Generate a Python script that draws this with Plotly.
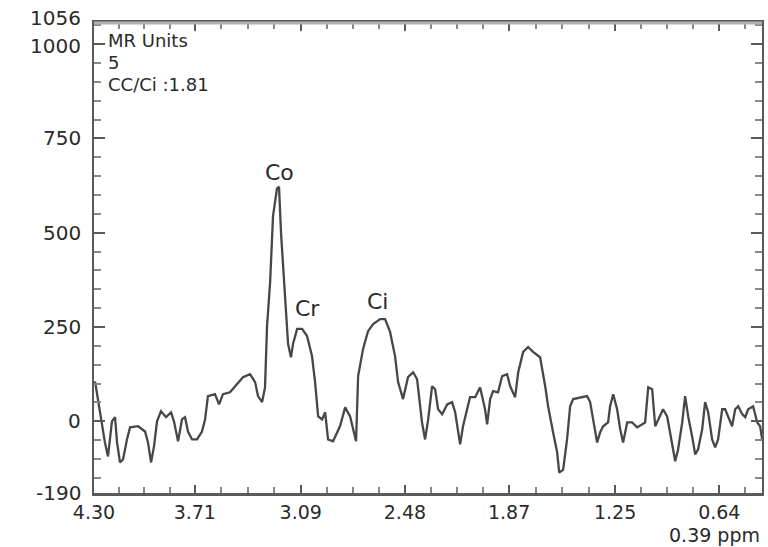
import plotly.graph_objects as go

# Spectrum (ppm, MR units)
ppm = [4.294, 4.277, 4.253, 4.236, 4.218, 4.195, 4.177, 4.165, 4.148, 4.130,
       4.107, 4.089, 4.042, 4.001, 3.984, 3.966, 3.949, 3.931, 3.908, 3.878,
       3.849, 3.832, 3.808, 3.785, 3.767, 3.750, 3.726, 3.697, 3.668, 3.650,
       3.633, 3.592, 3.568, 3.545, 3.504, 3.463, 3.428, 3.387, 3.357, 3.340,
       3.316, 3.299, 3.287, 3.269, 3.252, 3.229, 3.217, 3.205, 3.193, 3.176,
       3.164, 3.147, 3.135, 3.111, 3.082, 3.053, 3.024, 3.006, 2.988, 2.965,
       2.947, 2.930, 2.901, 2.860, 2.830, 2.801, 2.784, 2.766, 2.754, 2.725,
       2.696, 2.666, 2.625, 2.596, 2.567, 2.538, 2.520, 2.491, 2.462, 2.432,
       2.409, 2.391, 2.380, 2.362, 2.344, 2.321, 2.303, 2.286, 2.262, 2.233,
       2.204, 2.186, 2.169, 2.157, 2.140, 2.116, 2.099, 2.069, 2.040, 2.011,
       1.999, 1.981, 1.964, 1.935, 1.911, 1.882, 1.864, 1.835, 1.817, 1.788,
       1.759, 1.730, 1.689, 1.659, 1.642, 1.613, 1.589, 1.577, 1.554, 1.531,
       1.513, 1.495, 1.454, 1.414, 1.396, 1.378, 1.355, 1.337, 1.320, 1.291,
       1.279, 1.261, 1.238, 1.220, 1.203, 1.179, 1.150, 1.121, 1.091, 1.074,
       1.056, 1.033, 1.015, 0.998, 0.969, 0.945, 0.928, 0.898, 0.881, 0.857,
       0.840, 0.822, 0.799, 0.781, 0.764, 0.740, 0.723, 0.705, 0.682, 0.664,
       0.647, 0.623, 0.606, 0.588, 0.565, 0.547, 0.529, 0.506, 0.488, 0.471,
       0.442, 0.418, 0.401, 0.389]
intensity = [106, 59, 0, -56, -93, 0, 11, -56, -109, -101,
             -48, -16, -13, -27, -56, -109, -67, 0, 27, 11,
             24, 0, -53, 5, 11, -27, -48, -48, -27, 5,
             67, 72, 45, 72, 77, 98, 117, 125, 104, 67,
             51, 90, 253, 370, 545, 617, 622, 497, 418, 298,
             205, 170, 205, 245, 245, 226, 173, 104, 13, 5,
             24, -48, -53, -13, 37, 13, -21, -53, 120, 192,
             239, 258, 271, 271, 237, 173, 104, 59, 117, 130,
             112, 32, -3, -48, 5, 93, 85, 32, 19, 45,
             51, 24, -29, -61, -13, 32, 64, 64, 90, 32,
             -8, 59, 80, 77, 120, 125, 93, 64, 130, 184,
             197, 184, 170, 93, 40, -29, -82, -136, -128, -48,
             40, 59, 64, 67, 51, 5, -56, -29, -13, -3,
             40, 72, 32, -21, -56, -3, -3, -16, -8, -3,
             90, 85, -13, 5, 32, 13, -29, -106, -74, -3,
             67, 13, -40, -88, -74, -21, 51, 24, -48, -69,
             -48, 32, 32, 13, -13, 32, 40, 19, 11, 32,
             40, -3, -13, -48]

x_ticks = [4.30, 3.71, 3.09, 2.48, 1.87, 1.25, 0.64]
x_tick_text = ["4.30", "3.71", "3.09", "2.48", "1.87", "1.25", "0.64"]
x_range = [4.30, 0.39]
y_ticks = [-190, 0, 250, 500, 750, 1000, 1056]
y_tick_text = ["-190", "0", "250", "500", "750", "1000", "1056"]
y_range = [-190, 1056]

info_lines = ["MR Units", "5", "CC/Ci :1.81"]
peak_names = ["Co", "Cr", "Ci"]
peak_ppm = [3.217, 3.053, 2.643]
peak_val = [660, 300, 319]

# minor x ticks: quarter steps between labelled ticks
minor_x = []
edges = x_ticks + [x_range[1]]
for a, b in zip(edges[:-1], edges[1:]):
    step = (a - b) / 4 if b != x_range[1] else (x_ticks[-2] - x_ticks[-1]) / 4
    v = a - step
    while v > b + 1e-6:
        minor_x.append(round(v, 4))
        v -= step

FONT = "DejaVu Sans"
TXT = "#2a2a2a"
AX = "#5a5a5a"

fig = go.Figure()
fig.add_trace(go.Scatter(x=ppm, y=intensity, mode="lines",
                         line=dict(color="#474747", width=2.3),
                         hoverinfo="skip", showlegend=False))

for name, px_, pv in zip(peak_names, peak_ppm, peak_val):
    fig.add_annotation(x=px_, y=pv, text=name, showarrow=False,
                       font=dict(family=FONT, size=22, color=TXT))

for i, t in enumerate(info_lines):
    fig.add_annotation(xref="paper", yref="paper", x=0.018, y=0.962 - i * 0.0465,
                       text=t, showarrow=False, xanchor="left", yanchor="middle",
                       font=dict(family=FONT, size=18, color=TXT))

# y tick labels placed at the tick values (the top two are nudged apart as in the source)
y_label_shift = {1056: 5, 1000: -2}
for v, t in zip(y_ticks, y_tick_text):
    fig.add_annotation(xref="paper", yref="y", x=0, y=v, text=t, showarrow=False,
                       xanchor="right", yanchor="middle", xshift=-11,
                       yshift=y_label_shift.get(v, 0),
                       font=dict(family=FONT, size=20, color=TXT))

fig.add_annotation(xref="paper", yref="paper", x=1.0, y=-0.09, text="0.39 ppm",
                   showarrow=False, xanchor="right", yanchor="middle",
                   font=dict(family=FONT, size=19, color=TXT))

fig.update_xaxes(range=x_range, tickmode="array", tickvals=x_ticks, ticktext=x_tick_text,
                 ticks="inside", ticklen=8, tickwidth=2, tickcolor=AX,
                 showline=True, linecolor=AX, linewidth=3, mirror="ticks",
                 showgrid=False, zeroline=False, ticklabelstandoff=0, automargin=False,
                 tickfont=dict(family=FONT, size=19, color=TXT),
                 minor=dict(tickmode="array", tickvals=minor_x, ticks="inside",
                            ticklen=6, tickwidth=2, tickcolor="#888888", showgrid=False))
fig.update_yaxes(range=y_range, tickmode="array", tickvals=y_ticks,
                 showticklabels=False,
                 ticks="inside", ticklen=11, tickwidth=2, tickcolor=AX,
                 showline=True, linecolor=AX, linewidth=2, mirror="ticks",
                 showgrid=False, zeroline=False, automargin=False,
                 minor=dict(tick0=0, dtick=50, ticks="inside", ticklen=7,
                            tickwidth=2, tickcolor="#888888", showgrid=False))

fig.add_shape(type="line", xref="paper", yref="paper", x0=0, x1=1, y0=1, y1=1,
              line=dict(color="#b0b0b0", width=3), layer="above")

fig.update_layout(width=768, height=547, margin=dict(l=94, r=6, t=23, b=54),
                  paper_bgcolor="white", plot_bgcolor="white")

fig.write_html("out.html", config={"displayModeBar": False},
               post_script="document.body.style.margin='0px';")
